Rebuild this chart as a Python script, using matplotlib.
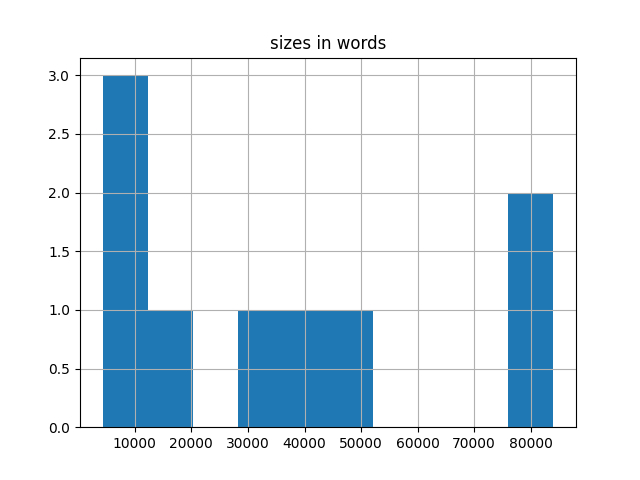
import matplotlib
matplotlib.use("Agg")
import matplotlib.pyplot as plt
import pandas as pd

sizes_in_words = [4300, 6500, 9000, 16000, 33000, 41000, 49000, 80000, 84000]

df = pd.DataFrame({"sizes in words": sizes_in_words})
fig, ax = plt.subplots(figsize=(6.4, 4.8), dpi=100)
df.hist(column="sizes in words", bins=10, ax=ax)
fig.savefig("out.png")
